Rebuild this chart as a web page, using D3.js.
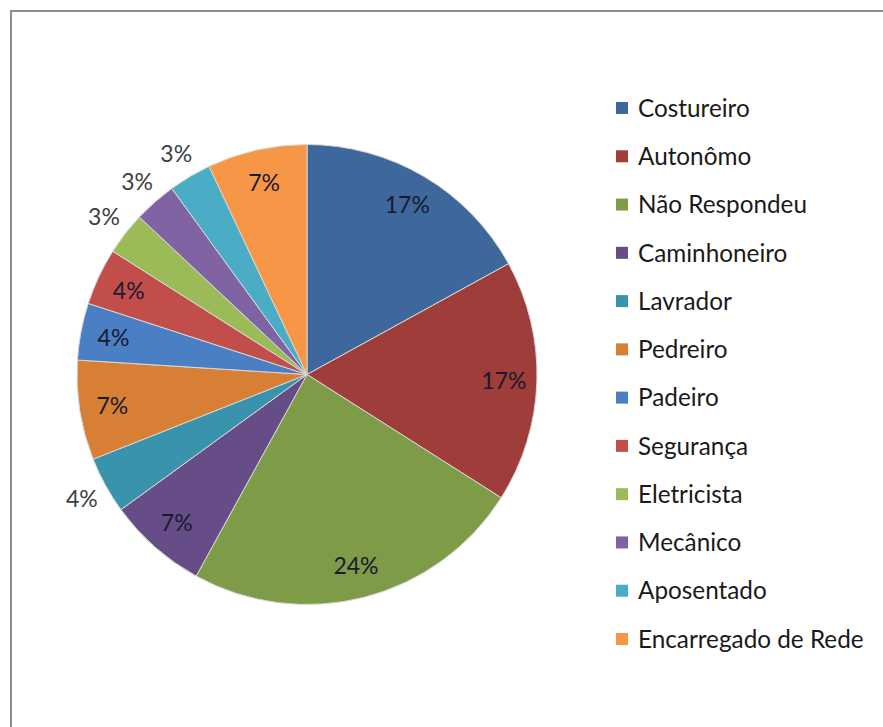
<!DOCTYPE html>
<html><head><meta charset="utf-8">
<script src="https://cdn.jsdelivr.net/npm/d3@7"></script>
<style>html,body{margin:0;padding:0;background:#fff;}svg{display:block;}</style>
</head><body>
<svg id="chart" width="883" height="727"></svg>
<script>
const categories = ["Costureiro","Autonômo","Não Respondeu","Caminhoneiro","Lavrador","Pedreiro","Padeiro","Segurança","Eletricista","Mecânico","Aposentado","Encarregado de Rede"];
const values = [17,17,24,7,4,7,4,4,3,3,3,7];
const colors = ["#3E689C","#9E3D3A","#7E9B48","#664D88","#3A93AD","#D77F35","#4A7FC4","#C24E4B","#9BBB59","#7F63A2","#4BACC6","#F79646"];
const outsideLabels = ["Lavrador","Eletricista","Mecânico","Aposentado"];

const svg = d3.select("#chart");
const font = "Lato, 'Open Sans', sans-serif";

// frame
svg.append("rect").attr("x",11).attr("y",11).attr("width",900).attr("height",800)
  .attr("fill","#fff").attr("stroke","#8c8c8c").attr("stroke-width",2);

const cx = 307, cy = 374.5, r = 230;
const pie = d3.pie().sort(null).value(d => d.v);
const data = pie(categories.map((c,i) => ({c, v: values[i], col: colors[i]})));
const arc = d3.arc().innerRadius(0).outerRadius(r);
const g = svg.append("g").attr("transform",`translate(${cx},${cy})`);
g.selectAll("path").data(data).join("path")
  .attr("d", arc).attr("fill", d => d.data.col)
  .attr("stroke","#d8d8d8").attr("stroke-width",1);

const inArc = d3.arc().innerRadius(197).outerRadius(197);
const outArc = d3.arc().innerRadius(257).outerRadius(257);
const total = d3.sum(values);
g.selectAll("text.lbl").data(data).join("text")
  .attr("class","lbl")
  .attr("transform", d => `translate(${(outsideLabels.includes(d.data.c) ? outArc : inArc).centroid(d)})`)
  .attr("text-anchor","middle").attr("dy","0.36em")
  .attr("font-family",font).attr("font-size",23)
  .attr("fill", d => outsideLabels.includes(d.data.c) ? "#404040" : "#1a1a2e")
  .text(d => Math.round(d.data.v/total*100) + "%");

// legend
const ly = d3.scalePoint().domain(categories).range([108, 639]);
const lg = svg.append("g");
const items = lg.selectAll("g").data(data).join("g")
  .attr("transform", d => `translate(616,${ly(d.data.c)})`);
items.append("rect").attr("x",0).attr("y",-6).attr("width",12).attr("height",12)
  .attr("fill", d => d.data.col);
items.append("text").attr("x",22).attr("dy","0.36em")
  .attr("font-family",font).attr("font-size",24.3).attr("fill","#1a1a1a")
  .text(d => d.data.c);
</script>
</body></html>
